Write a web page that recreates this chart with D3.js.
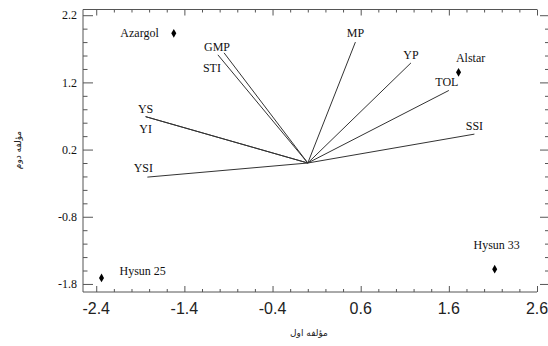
<!DOCTYPE html>
<html>
<head>
<meta charset="utf-8">
<script src="https://cdn.jsdelivr.net/npm/d3@7"></script>
<style>
  body { margin: 0; background: #fff; }
  svg { display: block; }
  .frame { stroke: #555; stroke-width: 1; fill: none; }
  .axis path { display: none; }
  .axis line { stroke: #555; }
  .vec { stroke: #333; stroke-width: 1; }
  .lbl { font-family: "Liberation Serif", "Times New Roman", serif; font-size: 12px; fill: #111; }
</style>
</head>
<body>
<svg id="chart"></svg>
<script>
// biplot data

const vectorNames = ['MP', 'YP', 'TOL', 'SSI', 'GMP', 'STI', 'YS', 'YI', 'YSI'];
const vectorX = [0.54, 1.17, 1.60, 1.89, -0.95, -1.02, -1.84, -1.84, -1.82];
const vectorY = [1.80, 1.49, 1.08, 0.43, 1.64, 1.61, 0.69, 0.69, -0.21];

const pointNames = ['Azargol', 'Alstar', 'Hysun 25', 'Hysun 33'];
const pointX = [-1.52, 1.71, -2.34, 2.12];
const pointY = [1.93, 1.35, -1.71, -1.58];

const xTickLabels = ['-2.4', '-1.4', '-0.4', '0.6', '1.6', '2.6'];
const yTickLabels = ['2.2', '1.2', '0.2', '-0.8', '-1.8'];

const xTitle = 'مؤلفه اول';
const yTitle = 'مؤلفه دوم';

// label placement (pixels, relative to end point)
const vecLabelDx = [0, 0, -2, 0, -7, -6, 0, 0, -4];
const vecLabelDy = [-5, -4, -4, -4, -2, 17, -4, 16, -5];
const ptLabelAnchor = ['end', 'middle', 'start', 'middle'];
const ptLabelDx = [-15, 12, 18, 2];
const ptLabelDy = [4, -10, -3, -20];

const width = 548;
const height = 346;

const svg = d3.select('#chart')
  .attr('width', width)
  .attr('height', height);

const x = d3.scaleLinear()
  .domain([-2.55, 2.6])
  .range([83, 537]);

const y = d3.scaleLinear()
  .domain([-1.92, 2.285])
  .range([292, 9.5]);

const xMajor = xTickLabels.map(Number);
const yMajor = yTickLabels.map(Number);
const xMinor = d3.range(-24, 27, 2).map(v => v / 10).filter(v => !xMajor.includes(v));
const yMinor = d3.range(-18, 23, 2).map(v => v / 10).filter(v => !yMajor.includes(v));

// frame: left, top, bottom
svg.append('path')
  .attr('class', 'frame')
  .attr('d', 'M' + x.range()[1] + ',' + y.range()[1] + 'H' + x.range()[0] + 'V' + y.range()[0] + 'H' + x.range()[1]);

function tickAxis(axisFn, scale, values, size, transform) {
  svg.append('g')
    .attr('class', 'axis')
    .attr('transform', transform)
    .call(axisFn(scale).tickValues(values).tickSize(size).tickFormat(''));
}

// bottom (ticks inward)
tickAxis(d3.axisBottom, x, xMajor, -6, 'translate(0,' + y.range()[0] + ')');
tickAxis(d3.axisBottom, x, xMinor, -3, 'translate(0,' + y.range()[0] + ')');
// top (ticks inward)
tickAxis(d3.axisTop, x, xMajor, -6, 'translate(0,' + y.range()[1] + ')');
tickAxis(d3.axisTop, x, xMinor, -3, 'translate(0,' + y.range()[1] + ')');
// left (ticks inward)
tickAxis(d3.axisLeft, y, yMajor, -10, 'translate(' + x.range()[0] + ',0)');
tickAxis(d3.axisLeft, y, yMinor, -4.5, 'translate(' + x.range()[0] + ',0)');
// right (cut off at page edge)
tickAxis(d3.axisRight, y, yMajor, -10, 'translate(550,0)');
tickAxis(d3.axisRight, y, yMinor, -5, 'translate(550,0)');

// tick labels
svg.append('g')
  .selectAll('text')
  .data(xTickLabels)
  .enter().append('text')
    .attr('x', d => x(+d))
    .attr('y', 314)
    .attr('text-anchor', 'middle')
    .style('font-family', '"Liberation Sans", Arial, sans-serif')
    .style('font-size', '16px')
    .style('fill', '#222')
    .text(d => d);

svg.append('g')
  .selectAll('text')
  .data(yTickLabels)
  .enter().append('text')
    .attr('class', 'lbl')
    .attr('x', 77)
    .attr('y', d => y(+d))
    .attr('dy', '0.35em')
    .attr('text-anchor', 'end')
    .text(d => d);

// axis titles
svg.append('text')
  .attr('x', 309)
  .attr('y', 336)
  .attr('text-anchor', 'middle')
  .style('font-family', '"DejaVu Sans", sans-serif')
  .style('font-size', '9px')
  .style('fill', '#222')
  .text(xTitle);

svg.append('text')
  .attr('transform', 'translate(21,150) rotate(-90)')
  .attr('text-anchor', 'middle')
  .style('font-family', '"DejaVu Sans", sans-serif')
  .style('font-size', '9px')
  .style('fill', '#222')
  .text(yTitle);

// vectors
const vectors = vectorNames.map((name, i) => ({ name, vx: vectorX[i], vy: vectorY[i], i }));

svg.append('g')
  .selectAll('line')
  .data(vectors)
  .enter().append('line')
    .attr('class', 'vec')
    .attr('x1', x(0))
    .attr('y1', y(0))
    .attr('x2', d => x(d.vx))
    .attr('y2', d => y(d.vy));

svg.append('g')
  .selectAll('text')
  .data(vectors)
  .enter().append('text')
    .attr('class', 'lbl')
    .attr('x', d => x(d.vx) + vecLabelDx[d.i])
    .attr('y', d => y(d.vy) + vecLabelDy[d.i])
    .attr('text-anchor', 'middle')
    .text(d => d.name);

// genotype points
const points = pointNames.map((name, i) => ({ name, px: pointX[i], py: pointY[i], i }));

svg.append('g')
  .selectAll('path')
  .data(points)
  .enter().append('path')
    .attr('d', d3.symbol(d3.symbolDiamond, 22))
    .attr('transform', d => 'translate(' + x(d.px) + ',' + y(d.py) + ')')
    .style('fill', '#000');

svg.append('g')
  .selectAll('text')
  .data(points)
  .enter().append('text')
    .attr('class', 'lbl')
    .attr('x', d => x(d.px) + ptLabelDx[d.i])
    .attr('y', d => y(d.py) + ptLabelDy[d.i])
    .attr('text-anchor', d => ptLabelAnchor[d.i])
    .text(d => d.name);
</script>
</body>
</html>
